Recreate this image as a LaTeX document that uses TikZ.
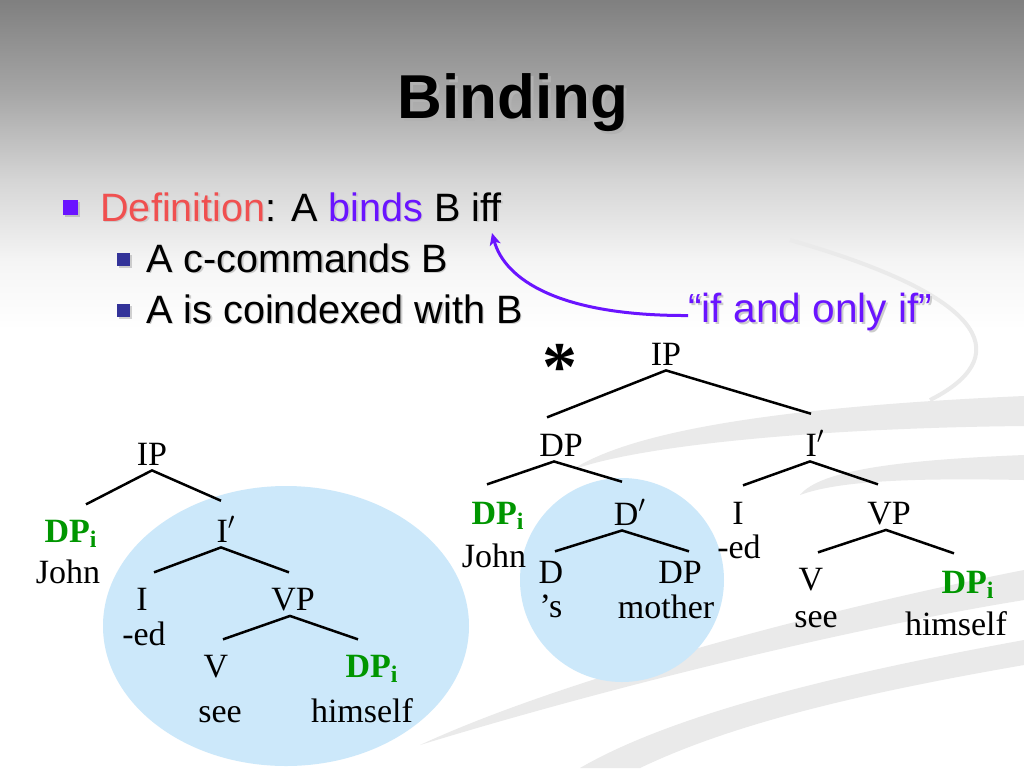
\documentclass[tikz,border=0pt]{standalone}
\usepackage{fontspec}
\setmainfont{Liberation Serif}
\newfontfamily\slidefont{Liberation Sans}
\usetikzlibrary{arrows.meta,shadows}
\definecolor{bindgreen}{RGB}{0,150,0}
\definecolor{defred}{RGB}{240,80,80}
\definecolor{bindviolet}{RGB}{106,20,255}
\definecolor{subblue}{RGB}{51,51,153}
\definecolor{scopeblue}{RGB}{204,232,250}
\definecolor{swooshgray}{RGB}{234,234,234}
\pgfdeclareverticalshading{slidebg}{100bp}{color(0bp)=(white); color(53.5bp)=(white);
  color(58bp)=(gray!8); color(63.3bp)=(gray!33); color(69bp)=(gray!70); color(75bp)=(gray); color(100bp)=(gray)}

\begin{document}
\begin{tikzpicture}[
  x=0.5pt, y=-0.5pt,
  cat/.style={font=\fontsize{17}{20}\selectfont, inner xsep=0pt, inner ysep=2.5pt, anchor=base},
  coidx/.style={cat, font=\fontsize{17}{20}\selectfont\bfseries, text=bindgreen},
  branch/.style={draw, line width=1.25pt},
  slidetext/.style={font=\slidefont\fontsize{19.8}{23}\selectfont, anchor=base west, inner sep=0pt},
  shadowtext/.style={text=gray!40},
  sqbullet/.style={minimum size=#1, inner sep=0pt,
    drop shadow={shadow xshift=1pt, shadow yshift=-1pt, opacity=0.35}},
  bindarrow/.style={draw=bindviolet, line width=1.5pt, -{Stealth[length=6pt, width=5.5pt, inset=1.5pt]}}
]
\useasboundingbox (0,0) rectangle (1024,768);
\shade[shading=slidebg] (0,0) rectangle (1024,768);

% background swooshes
\draw[swooshgray, line width=2pt] (790,240) .. controls (1000,300) and (1010,360) .. (930,400);
\fill[swooshgray] (1024,396) .. controls (820,405) and (640,425) .. (572,470)
  .. controls (640,445) and (820,428) .. (1024,426) -- cycle;
\fill[swooshgray] (1024,455) .. controls (900,460) and (820,470) .. (800,495)
  .. controls (840,480) and (920,478) .. (1024,480) -- cycle;
\fill[swooshgray] (1024,570) .. controls (820,610) and (560,680) .. (420,745)
  .. controls (600,690) and (840,630) .. (1024,600) -- cycle;
\fill[swooshgray] (1024,640) .. controls (860,670) and (680,710) .. (580,768)
  -- (640,768) .. controls (740,720) and (880,690) .. (1024,665) -- cycle;

% scope regions
\fill[scopeblue] (286,626) ellipse [x radius=183, y radius=140];
\fill[scopeblue] (622,580) circle [radius=102];

% title and definition
\node[slidetext, anchor=base, font=\slidefont\bfseries\fontsize{31}{36}\selectfont, text=gray!60] at (516,121) {Binding};
\node[slidetext, anchor=base, font=\slidefont\bfseries\fontsize{31}{36}\selectfont] (title) at (513,118) {Binding};

\node[sqbullet=7.5pt, fill=bindviolet] (b1) at (70.5,207.5) {};
\node[sqbullet=6.5pt, fill=subblue] (b2) at (123.5,259.5) {};
\node[sqbullet=6.5pt, fill=subblue] (b3) at (123.5,310.5) {};

\node[slidetext, shadowtext] at (101.5,222.5) {Definition: A binds B iff};
\node[slidetext] (def) at (100,221) {\textcolor{defred}{Definition}: A \textcolor{bindviolet}{binds} B iff};
\node[slidetext, shadowtext] at (147.5,273.5) {A c-commands B};
\node[slidetext] (cc) at (146,272) {A c-commands B};
\node[slidetext, shadowtext] at (147.5,324.5) {A is coindexed with B};
\node[slidetext] (coind) at (146,323) {A is coindexed with B};

\node[slidetext, shadowtext, font=\slidefont\fontsize{20.3}{23}\selectfont] at (690,324.5) {“if and only if”};
\node[slidetext, text=bindviolet, font=\slidefont\fontsize{20.3}{23}\selectfont] (iff) at (688,322) {“if and only if”};
\coordinate (iffpt) at (492,233);
\draw[bindarrow] ([yshift=-2pt]iff.west) .. controls (560,316) and (505,280) .. (iffpt);

% left tree
\node[cat] (ip1) at (152,465) {IP};
\node[coidx] (dp1) at (71,542) {DP\textsubscript{i}};
\node[cat] (john1) at (68,583) {John};
\node[cat] (ibar1) at (226,542) {I$'$};
\node[cat] (i1) at (142,610) {I};
\node[cat] (ed1) at (144,645) {-ed};
\node[cat] (vp1) at (293,610) {VP};
\node[cat] (v1) at (216,677) {V};
\node[cat] (see1) at (220,722) {see};
\node[coidx] (dpr1) at (372,677) {DP\textsubscript{i}};
\node[cat] (himself1) at (362,722) {himself};

\draw[branch] ([xshift=7.5pt, yshift=5pt]dp1.north) -- (ip1.south) -- ([xshift=-2.5pt, yshift=5pt]ibar1.north);
\draw[branch] ([xshift=6pt, yshift=5pt]i1.north) -- ([xshift=-2.5pt]ibar1.south) -- ([xshift=-2pt, yshift=5pt]vp1.north);
\draw[branch] ([xshift=3.5pt, yshift=5pt]v1.north) -- ([xshift=-1.5pt]vp1.south) -- ([xshift=-7pt, yshift=5pt]dpr1.north);

% right tree
\node[cat, font=\fontsize{35}{35}\selectfont\bfseries] (star) at (560,390) {*};
\node[cat] (ip2) at (666,365) {IP};
\node[cat] (dp2) at (561,456) {DP};
\node[cat] (ibar2) at (815,456) {I$'$};
\node[coidx] (dpj2) at (498,524) {DP\textsubscript{i}};
\node[cat] (john2) at (494,567) {John};
\node[cat] (dbar2) at (630,525) {D$'$};
\node[cat] (d2) at (551,583) {D};
\node[cat] (s2) at (551,617) {’s};
\node[cat] (dpm2) at (680,583) {DP};
\node[cat] (mother2) at (666,618) {mother};
\node[cat] (i2) at (738,524) {I};
\node[cat] (ed2) at (739,558) {-ed};
\node[cat] (vp2) at (889,524) {VP};
\node[cat] (v2) at (811,590) {V};
\node[cat] (see2) at (816,627) {see};
\node[coidx] (dpr2) at (968,593) {DP\textsubscript{i}};
\node[cat] (himself2) at (956,635) {himself};

\draw[branch] ([xshift=-7pt, yshift=5.5pt]dp2.north) -- (ip2.south) -- ([xshift=-2pt, yshift=5.5pt]ibar2.north);
\draw[branch] ([xshift=-5.5pt, yshift=6pt]dpj2.north) -- ([xshift=-3.5pt]dp2.south) -- ([xshift=-4pt, yshift=6pt]dbar2.north);
\draw[branch] ([xshift=2.5pt, yshift=5.5pt]i2.north) -- ([xshift=-2.5pt]ibar2.south) -- ([xshift=-5.5pt, yshift=6pt]vp2.north);
\draw[branch] ([xshift=2pt, yshift=2pt]d2.north) -- ([xshift=-4pt]dbar2.south) -- ([xshift=4.5pt, yshift=2pt]dpm2.north);
\draw[branch] ([xshift=3.5pt, yshift=5pt]v2.north) -- ([xshift=-1.5pt]vp2.south) -- ([xshift=-7pt, yshift=6pt]dpr2.north);
\end{tikzpicture}
\end{document}
